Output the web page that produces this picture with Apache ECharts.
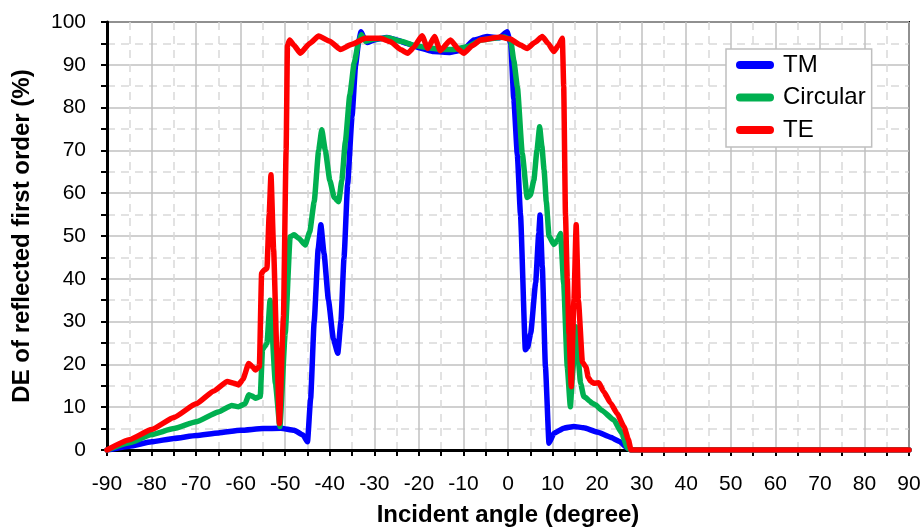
<!DOCTYPE html>
<html>
<head>
<meta charset="utf-8">
<script src="https://cdn.jsdelivr.net/npm/echarts@6/dist/echarts.min.js"></script>
<style>
html, body { margin: 0; padding: 0; background: #fff; }
#chart { width: 922px; height: 527px; }
</style>
</head>
<body>
<div id="chart"></div>
<script>
var seriesNames = [ 'TM', 'Circular', 'TE' ];

var tmAngle = [ -90, -85, -80, -75, -70, -65, -60, -55, -51, -48, -46, -45, -44.3, -43.5, -42.6, -42,
	-41.3, -40.3, -39.2, -38.2, -37.5, -36.8, -36, -35, -34.2, -33.5, -33, -32.4, -31.6, -30, -27.2, -25,
	-22.7, -20, -16.7, -13, -10, -7.7, -4.7, -2, -0.2, 0.6, 1.3, 2.1, 2.8, 3.9, 4.4, 5.1, 6.2, 6.9, 7.2,
	7.7, 8.4, 9.2, 10.3, 12.5, 14.8, 17, 20, 23, 25, 26.8, 27.5, 90 ];
var tmValue = [ 0, 0.9, 1.9, 2.7, 3.4, 4.0, 4.6, 5.0, 5.1, 4.6, 3.5, 1.9, 12, 30, 47, 52.6,
	46, 35, 26, 22.6, 30, 45, 62, 78, 90, 95.5, 97.7, 96.5, 95.2, 95.8, 96.4, 95.8,
	95, 94, 93.1, 92.9, 93.5, 95.8, 96.6, 96.3, 97.7, 95, 82, 69, 55, 23.4, 24, 27.3, 39, 50.6, 54.9,
	42.8, 19.5, 1.6, 3.9, 5.1, 5.5, 5.2, 4.2, 3.0, 2.0, 0.5, 0, 0 ];

var circAngle = [ -90, -85, -80, -75, -70, -65, -62, -60.5, -59, -58.2, -57.4, -56.7, -55.6, -55.1, -54.6,
	-54.1, -53.4, -52.2, -51.2, -50, -48.9, -48, -47, -45.5, -44.5, -43.5, -42.5, -41.8, -41, -40, -39, -38,
	-37.3, -36.5, -35.5, -34.5, -33.5, -32.9, -32, -30, -27, -24, -21, -18, -15, -12, -9, -6, -3, -0.8,
	0.6, 1.3, 2.1, 3.2, 4.3, 5, 5.8, 6.5, 7.1, 7.6, 8.1, 8.6, 9.2, 10.3, 11.1, 11.8, 12.5, 13.3, 14, 14.5,
	15.2, 16.3, 17, 17.5, 18.2, 18.9, 19.7, 21, 23.8, 25.5, 26.8, 27.5, 90 ];
var circValue = [ 0, 1.7, 3.6, 5.0, 6.6, 8.9, 10.4, 10.1, 10.8, 12.9, 12.6, 12.1, 12.5, 23.5, 24.2,
	24.9, 35, 15.6, 5.5, 27.3, 49.8, 50.3, 49.5, 47.9, 51, 58, 70, 74.8, 70, 63, 59, 58,
	63, 72, 83, 90.5, 95.5, 97, 95.5, 96, 96.3, 95.5, 94.5, 94, 93.6, 93.6, 94.3, 95.8, 96.2, 96.5,
	95.8, 91, 84.9, 69.3, 59, 59.5, 63, 70, 75.5, 71, 65.4, 58, 50, 48, 49, 50.6, 38.9, 19.5, 10.1, 18,
	28.8, 15.6, 12.5, 12.2, 11.5, 10.9, 10.5, 9.3, 7, 4, 0.5, 0, 0 ];

var teAngle = [ -90, -85, -80, -75, -70, -66, -63, -61.5, -60.5, -59.5, -58.2, -57.4, -56.7, -55.8, -55.3,
	-54.8, -54.1, -53.6, -53.2, -52.6, -51.9, -51.3, -50.4, -49.8, -49.5, -49, -48, -46.6, -44.5, -42.5,
	-40, -37.6, -35, -32, -28.7, -26.4, -24, -22.5, -21.2, -19.3, -18, -16.5, -15.2, -12.9, -11, -9.9,
	-8, -6.2, -1.7, 0.5, 2.8, 4.3, 6, 7.7, 9, 10.3, 11.3, 12.2, 12.5, 12.9, 13.3, 13.7, 14.2, 14.8, 15.3,
	15.8, 16.7, 17.5, 18, 18.6, 19.3, 20.4, 21.5, 23, 24.5, 26, 27, 27.6, 90 ];
var teValue = [ 0, 2.4, 4.8, 7.6, 10.8, 13.8, 16, 15.6, 15.2, 16.5, 20.2, 19.5, 18.7, 19.5, 41.3,
	42, 42.4, 55, 64.3, 46.7, 23.4, 6.2, 31, 70, 94.5, 95.8, 94.5, 92.7, 95, 96.7,
	95.5, 93.6, 94.8, 96.2, 96.2, 95.4, 93.5, 92.7, 94, 96.8, 93.8, 96.6, 93.3, 95.8, 93.5, 92.7,
	94.5, 95.8, 96.5, 96, 94.6, 93.8, 95.2, 96.6, 95, 93.1, 94.5, 96.2, 85, 55, 40, 27, 14.8, 35, 52.6,
	35, 20.5, 19.4, 17, 16, 15.6, 15.7, 13.6, 11, 8.5, 5.5, 2.5, 0, 0 ];

var lineColors = [ '#0000ff', '#00b050', '#ff0000' ];
var FONT = "'Liberation Sans', Arial, sans-serif";

function pairs(xs, ys) {
	return xs.map(function(x, i) {
		return [ x, ys[i] ];
	});
}

function lineSeries(name, xs, ys, color) {
	return {
		name : name,
		type : 'line',
		data : pairs(xs, ys),
		symbol : 'none',
		smooth : 0.15,
		smoothMonotone : 'x',
		lineStyle : {
			color : color,
			width : 5.5,
			cap : 'round',
			join : 'round'
		},
		itemStyle : {
			color : color
		}
	};
}

var axisBlack = {
	color : '#000',
	width : 2
};

var myChart = echarts.init(document.getElementById('chart'));
var option = {
	animation : false,
	color : lineColors,
	grid : {
		left : 107,
		right : 13,
		top : 22,
		bottom : 77,
		outerBoundsMode : 'none',
		show : true,
		borderColor : '#000',
		borderWidth : 2
	},
	legend : {
		data : seriesNames,
		orient : 'vertical',
		left : 726,
		top : 49,
		padding : [ 4, 6, 5, 10 ],
		itemGap : 8.5,
		itemWidth : 38,
		itemHeight : 8,
		icon : 'path://M4,0 H34 A4,4 0 0 1 34,8 H4 A4,4 0 0 1 4,0 Z',
		borderColor : '#bfbfbf',
		borderWidth : 1.5,
		backgroundColor : '#fff',
		textStyle : {
			fontFamily : FONT,
			fontSize : 24,
			lineHeight : 24,
			color : '#000',
			padding : [ 0, 0, 0, 4 ]
		}
	},
	xAxis : {
		type : 'value',
		min : -90,
		max : 90,
		interval : 10,
		name : 'Incident angle (degree)',
		nameLocation : 'middle',
		nameGap : 53,
		nameTextStyle : {
			fontFamily : FONT,
			fontSize : 24,
			fontWeight : 'bold',
			color : '#000'
		},
		axisLine : {
			onZero : false,
			lineStyle : {
				color : '#000',
				width : 3
			}
		},
		axisTick : {
			length : 6,
			lineStyle : axisBlack
		},
		minorTick : {
			show : true,
			splitNumber : 2,
			length : 6,
			lineStyle : axisBlack
		},
		axisLabel : {
			fontFamily : FONT,
			fontSize : 21,
			color : '#000',
			margin : 24
		},
		splitLine : {
			lineStyle : {
				color : '#c0c0c0',
				width : 1.5
			}
		},
		minorSplitLine : {
			show : true,
			lineStyle : {
				color : '#d9d9d9',
				width : 1.5,
				type : [ 8, 6 ]
			}
		}
	},
	yAxis : {
		type : 'value',
		min : 0,
		max : 100,
		interval : 10,
		name : 'DE of reflected first order (%)',
		nameLocation : 'middle',
		nameGap : 73,
		nameTextStyle : {
			fontFamily : FONT,
			fontSize : 24,
			fontWeight : 'bold',
			color : '#000'
		},
		axisLine : {
			onZero : false,
			lineStyle : {
				color : '#000',
				width : 3
			}
		},
		axisTick : {
			length : 6,
			lineStyle : axisBlack
		},
		minorTick : {
			show : true,
			splitNumber : 2,
			length : 6,
			lineStyle : axisBlack
		},
		axisLabel : {
			fontFamily : FONT,
			fontSize : 21,
			color : '#000',
			margin : 21
		},
		splitLine : {
			lineStyle : {
				color : '#c0c0c0',
				width : 1.5
			}
		},
		minorSplitLine : {
			show : true,
			lineStyle : {
				color : '#d9d9d9',
				width : 1.5,
				type : [ 8, 6 ]
			}
		}
	},
	series : [ lineSeries(seriesNames[0], tmAngle, tmValue, lineColors[0]),
			lineSeries(seriesNames[1], circAngle, circValue, lineColors[1]),
			lineSeries(seriesNames[2], teAngle, teValue, lineColors[2]) ]
};
myChart.setOption(option);
</script>
</body>
</html>
